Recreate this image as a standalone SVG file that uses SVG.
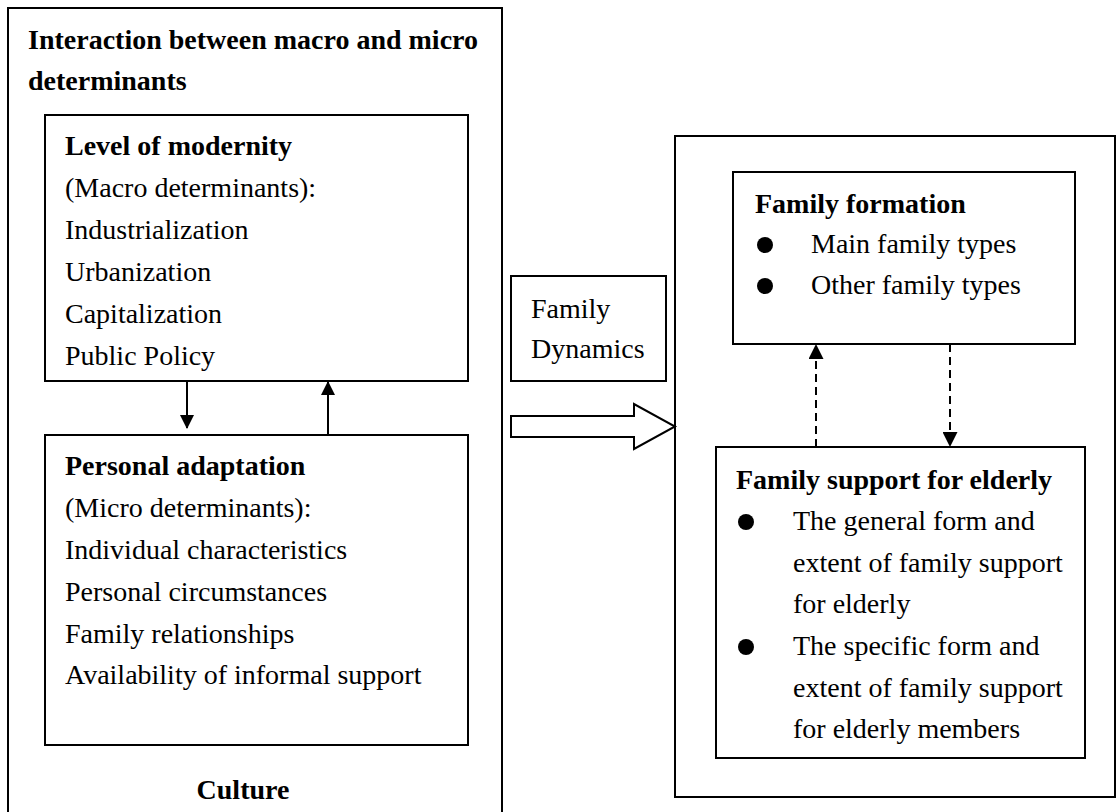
<svg xmlns="http://www.w3.org/2000/svg" width="1117" height="812" viewBox="0 0 1117 812">
<style>
.box{fill:#fff;stroke:#000;stroke-width:2}
.t{font-family:"Liberation Serif","Times New Roman",serif;font-size:28px;fill:#000}
.b{font-weight:bold}
.con{stroke:#000;stroke-width:2;fill:none}
.dash{stroke-dasharray:8,5}
</style>
<defs>
<marker id="ah" markerWidth="15" markerHeight="15" refX="14" refY="7.5" orient="auto" markerUnits="userSpaceOnUse" viewBox="0 0 15 15">
<path d="M0,0 L15,7.5 L0,15 z" fill="#000"/>
</marker>
<marker id="ahL" markerWidth="14" markerHeight="14" refX="13" refY="7" orient="auto" markerUnits="userSpaceOnUse" viewBox="0 0 14 14">
<path d="M0,0 L14,7 L0,14 z" fill="#000"/>
</marker>
</defs>
<rect width="1117" height="812" fill="#fff"/>
<g id="culture-frame">
<path class="con" d="M8,812 V8 H502 V812"/>
<text class="t b" x="28" y="49">Interaction between macro and micro</text>
<text class="t b" x="28" y="90">determinants</text>
<text class="t b" x="243" y="799" text-anchor="middle">Culture</text>
</g>
<g id="modernity">
<rect class="box" x="45" y="115" width="423" height="266"/>
<text class="t b" x="65" y="155">Level of modernity</text>
<text class="t" x="65" y="197">(Macro determinants):</text>
<text class="t" x="65" y="239">Industrialization</text>
<text class="t" x="65" y="281">Urbanization</text>
<text class="t" x="65" y="323">Capitalization</text>
<text class="t" x="65" y="365">Public Policy</text>
</g>
<g id="adaptation">
<rect class="box" x="45" y="435" width="423" height="310"/>
<text class="t b" x="65" y="475">Personal adaptation</text>
<text class="t" x="65" y="517">(Micro determinants):</text>
<text class="t" x="65" y="559">Individual characteristics</text>
<text class="t" x="65" y="601">Personal circumstances</text>
<text class="t" x="65" y="643">Family relationships</text>
<text class="t" x="65" y="684">Availability of informal support</text>
</g>
<g id="family-dynamics">
<rect class="box" x="511" y="276" width="155" height="105"/>
<text class="t" x="531" y="318">Family</text>
<text class="t" x="531" y="358">Dynamics</text>
</g>
<g id="outcome-frame">
<rect class="box" x="675" y="136" width="440" height="661"/>
</g>
<g id="family-formation">
<rect class="box" x="733" y="172" width="342" height="172"/>
<text class="t b" x="755" y="213">Family formation</text>
<circle cx="765" cy="245" r="8"/>
<text class="t" x="811" y="253">Main family types</text>
<circle cx="765" cy="286" r="8"/>
<text class="t" x="811" y="294">Other family types</text>
</g>
<g id="family-support">
<rect class="box" x="716" y="447" width="369" height="311"/>
<text class="t b" x="736" y="489">Family support for elderly</text>
<circle cx="746" cy="522" r="8"/>
<text class="t" x="793" y="530">The general form and</text>
<text class="t" x="793" y="572">extent of family support</text>
<text class="t" x="793" y="613">for elderly</text>
<circle cx="746" cy="647" r="8"/>
<text class="t" x="793" y="655">The specific form and</text>
<text class="t" x="793" y="697">extent of family support</text>
<text class="t" x="793" y="738">for elderly members</text>
</g>
<g id="connectors">
<line class="con" x1="187" y1="381" x2="187" y2="428" marker-end="url(#ahL)"/>
<line class="con" x1="328" y1="435" x2="328" y2="382" marker-end="url(#ahL)"/>
<line class="con dash" x1="816" y1="447" x2="816" y2="345" marker-end="url(#ah)"/>
<line class="con dash" x1="950" y1="344" x2="950" y2="446" marker-end="url(#ah)"/>
<path class="box" d="M511,416 H634 V404 L675,426.5 L634,449 V437 H511 Z"/>
</g>
</svg>
